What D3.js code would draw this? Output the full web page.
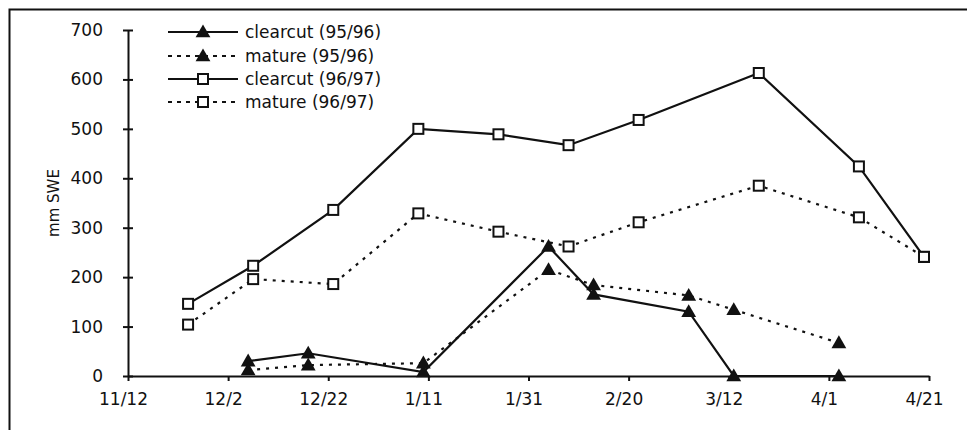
<!DOCTYPE html>
<html>
<head>
<meta charset="utf-8">
<script src="https://cdn.jsdelivr.net/npm/d3@7"></script>
<style>
  body { margin: 0; background: #fff; }
  svg text { font-family: "DejaVu Sans", sans-serif; fill: #111; }
</style>
</head>
<body>
<svg id="swe-chart" width="967" height="430"></svg>
<script>
// tick labels (20-day steps) and y ticks
let x_tick_labels = ["11/12", "12/2", "12/22", "1/11", "1/31", "2/20", "3/12", "4/1", "4/21"];
let y_ticks = [0, 100, 200, 300, 400, 500, 600, 700];

// 95/96 season
let dates_9596 = ["12/6", "12/18", "1/10", "2/4", "2/13", "3/4", "3/13", "4/3"];
let clearcut_9596 = [30, 46, 8, 262, 165, 130, 0, 0];
let mature_9596 = [12, 22, 26, 215, 184, 163, 134, 67];

// 96/97 season
let dates_9697 = ["11/24", "12/7", "12/23", "1/9", "1/25", "2/8", "2/22", "3/18", "4/7", "4/20"];
let clearcut_9697 = [146, 223, 336, 500, 489, 467, 518, 613, 424, 241];
let mature_9697 = [104, 196, 186, 329, 292, 262, 311, 385, 321, 241];

let series_names = ["clearcut (95/96)", "mature (95/96)", "clearcut (96/97)", "mature (96/97)"];

// put both seasons on one nov-apr axis
function parse_md(s) {
  let p = s.split("/");
  let m = +p[0], d = +p[1];
  return new Date(m >= 10 ? 1996 : 1997, m - 1, d);
}

let swe_svg = d3.select("#swe-chart");

let swe_x = d3.scaleTime()
  .domain([parse_md("11/12"), parse_md("4/21")])
  .range([128, 929]);
let swe_y = d3.scaleLinear().domain([0, 700]).range([376, 30]);

// outer frame (left + top only visible)
swe_svg.append("path")
  .attr("d", "M9.5,430 L9.5,9.5 L967,9.5")
  .attr("fill", "none")
  .attr("stroke", "#111")
  .attr("stroke-width", 2);

// y axis
let y_axis = swe_svg.append("g")
  .attr("transform", "translate(128,0)")
  .call(d3.axisLeft(swe_y).tickValues(y_ticks).tickSize(5).tickPadding(20).tickSizeOuter(0));
y_axis.selectAll(".tick line").attr("x2", 5).attr("x1", -5);

// x axis
let x_axis = swe_svg.append("g")
  .attr("transform", "translate(0,376)")
  .call(d3.axisBottom(swe_x)
    .tickValues(x_tick_labels.map(parse_md))
    .tickFormat(function (d, i) { return x_tick_labels[i]; })
    .tickSize(5).tickPadding(12).tickSizeOuter(0));
x_axis.selectAll(".tick text").attr("dx", -5);

[y_axis, x_axis].forEach(function (ax) {
  ax.select(".domain").attr("stroke", "#111").attr("stroke-width", 2);
  ax.selectAll(".tick line").attr("stroke", "#111").attr("stroke-width", 2);
  ax.selectAll(".tick text")
    .attr("font-family", "DejaVu Sans")
    .attr("font-size", 17)
    .attr("fill", "#111");
});

// y axis title
swe_svg.append("text")
  .attr("transform", "translate(59,203) rotate(-90)")
  .attr("text-anchor", "middle")
  .attr("font-size", 15)
  .text("mm SWE");

let series = [
  { name: series_names[0], dates: dates_9596, values: clearcut_9596, dash: null, mark: "tri" },
  { name: series_names[1], dates: dates_9596, values: mature_9596, dash: "3,6", mark: "tri" },
  { name: series_names[2], dates: dates_9697, values: clearcut_9697, dash: null, mark: "sq" },
  { name: series_names[3], dates: dates_9697, values: mature_9697, dash: "3,6", mark: "sq" }
];

let swe_line = d3.line()
  .x(function (d) { return swe_x(d.date); })
  .y(function (d) { return swe_y(d.value); });

let tri_sym = d3.symbol().type(d3.symbolTriangle).size(95);

function draw_marker(g, kind) {
  if (kind == "tri") {
    g.append("path")
      .attr("d", tri_sym)
      .attr("transform", "translate(0,1)")
      .attr("fill", "#111");
  } else {
    g.append("rect")
      .attr("x", -5).attr("y", -5)
      .attr("width", 10).attr("height", 10)
      .attr("fill", "#fff")
      .attr("stroke", "#111")
      .attr("stroke-width", 2);
  }
}

series.forEach(function (s) {
  let pts = s.dates.map(function (dt, i) {
    return { date: parse_md(dt), value: s.values[i] };
  });
  swe_svg.append("path")
    .datum(pts)
    .attr("d", swe_line)
    .attr("fill", "none")
    .attr("stroke", "#111")
    .attr("stroke-width", 2.2)
    .attr("stroke-dasharray", s.dash);
  swe_svg.append("g")
    .selectAll("g")
    .data(pts)
    .enter()
    .append("g")
    .attr("transform", function (d) {
      return "translate(" + swe_x(d.date) + "," + swe_y(d.value) + ")";
    })
    .each(function () { draw_marker(d3.select(this), s.mark); });
});

// legend
let legend = swe_svg.append("g");
let legend_rows = [32, 56, 79, 102];
series.forEach(function (s, i) {
  let row = legend.append("g").attr("transform", "translate(0," + legend_rows[i] + ")");
  row.append("line")
    .attr("x1", 168).attr("x2", 238)
    .attr("stroke", "#111")
    .attr("stroke-width", 2.2)
    .attr("stroke-dasharray", s.dash ? "4,5" : null);
  draw_marker(row.append("g").attr("transform", "translate(203,0)"), s.mark);
  row.append("text")
    .attr("x", 245)
    .attr("dy", "0.35em")
    .attr("font-size", 17)
    .text(s.name);
});
</script>
</body>
</html>
